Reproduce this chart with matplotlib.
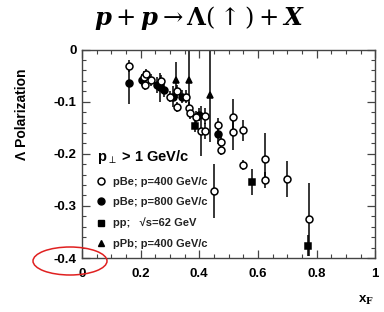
import matplotlib
matplotlib.use("Agg")
import matplotlib.pyplot as plt
from matplotlib.patches import Ellipse
from matplotlib.ticker import MultipleLocator, FuncFormatter
from matplotlib.lines import Line2D

plt.rcParams['font.family'] = ['Liberation Sans', 'DejaVu Sans']
plt.rcParams['mathtext.fontset'] = 'dejavuserif'

# pBe, p=400 GeV/c (offene Kreise)
pbe400_x = [0.16, 0.21, 0.22, 0.215, 0.235, 0.27, 0.30, 0.325, 0.325, 0.355,
            0.365, 0.37, 0.39, 0.42, 0.405, 0.42, 0.45, 0.465, 0.475, 0.475,
            0.515, 0.515, 0.55, 0.55, 0.625, 0.625, 0.70, 0.775]
pbe400_y = [-0.031, -0.052, -0.047, -0.068, -0.058, -0.061, -0.090, -0.080, -0.110, -0.090,
            -0.112, -0.122, -0.130, -0.128, -0.156, -0.156, -0.272, -0.144, -0.178, -0.192,
            -0.130, -0.158, -0.155, -0.222, -0.209, -0.250, -0.248, -0.326]
pbe400_err = [0.012, 0.010, 0.010, 0.010, 0.012, 0.012, 0.010, 0.012, 0.010, 0.012,
              0.012, 0.012, 0.012, 0.015, 0.048, 0.015, 0.052, 0.012, 0.010, 0.010,
              0.035, 0.034, 0.020, 0.010, 0.048, 0.015, 0.034, 0.070]

# pBe, p=800 GeV/c (volle Kreise)
pbe800_x = [0.16, 0.205, 0.255, 0.265, 0.28, 0.31, 0.34, 0.40, 0.465]
pbe800_y = [-0.065, -0.058, -0.068, -0.072, -0.078, -0.090, -0.090, -0.125, -0.162]
pbe800_err = [0.040, 0.012, 0.015, 0.028, 0.012, 0.020, 0.012, 0.012, 0.020]

# pp, sqrt(s)=62 GeV (Quadrate)
pp_x = [0.385, 0.58, 0.77]
pp_y = [-0.147, -0.255, -0.376]
pp_err = [0.012, 0.025, 0.020]

# pPb, p=400 GeV/c (Dreiecke)
ppb_x = [0.32, 0.365, 0.435]
ppb_y = [-0.058, -0.058, -0.088]
ppb_err = [0.035, 0.060, 0.090]

fig = plt.figure(figsize=(3.84, 3.12), dpi=100)
ax = fig.add_axes([0.2135, 0.173, 0.7635, 0.668])

kw = dict(ecolor='black', elinewidth=1.1, capsize=0, linestyle='none',
          markersize=5, markeredgewidth=1.1, markeredgecolor='black')
ax.errorbar(pbe400_x, pbe400_y, yerr=pbe400_err, fmt='o', markerfacecolor='white', zorder=3, **kw)
ax.errorbar(pbe800_x, pbe800_y, yerr=pbe800_err, fmt='o', markerfacecolor='black', zorder=2, **kw)
ax.errorbar(pp_x, pp_y, yerr=pp_err, fmt='s', markerfacecolor='black', zorder=2, **kw)
ax.errorbar(ppb_x, ppb_y, yerr=ppb_err, fmt='^', markerfacecolor='black', zorder=2, **kw)

ax.set_xlim(0, 1)
ax.set_ylim(-0.4, 0)
ax.xaxis.set_major_locator(MultipleLocator(0.2))
ax.xaxis.set_minor_locator(MultipleLocator(0.05))
ax.yaxis.set_major_locator(MultipleLocator(0.1))
ax.yaxis.set_minor_locator(MultipleLocator(0.02))
ax.xaxis.set_major_formatter(FuncFormatter(lambda v, p: f'{v:g}'))
ax.yaxis.set_major_formatter(FuncFormatter(lambda v, p: f'{v:g}'))
ax.tick_params(which='both', direction='in', top=True, right=True, color='#444444')
ax.tick_params(which='major', length=6, width=0.9, labelsize=9.5, pad=4)
ax.tick_params(axis='x', which='major', pad=7)
ax.tick_params(which='minor', length=3, width=0.8)
for lab in ax.get_xticklabels() + ax.get_yticklabels():
    lab.set_fontweight('bold')
for sp in ax.spines.values():
    sp.set_color('#444444')
    sp.set_linewidth(1.0)

ax.set_ylabel('Λ Polarization', fontsize=10, fontweight='bold')
ax.yaxis.set_label_coords(-0.18, 0.69)
ax.set_xlabel(r'x$_\mathbf{F}$', fontsize=9.5, fontweight='bold')
ax.xaxis.set_label_coords(0.97, -0.17)

handles = [
    Line2D([], [], marker='o', linestyle='none', markersize=5, markerfacecolor='white',
           markeredgecolor='black', markeredgewidth=1.1),
    Line2D([], [], marker='o', linestyle='none', markersize=5, color='black'),
    Line2D([], [], marker='s', linestyle='none', markersize=5, color='black'),
    Line2D([], [], marker='^', linestyle='none', markersize=5, color='black'),
]
labels = ['pBe; p=400 GeV/c', 'pBe; p=800 GeV/c', 'pp;   √s=62 GeV', 'pPb; p=400 GeV/c']
leg = ax.legend(handles, labels, loc='upper left', bbox_to_anchor=(0.05, 0.528),
                frameon=False, prop={'size': 8, 'weight': 'bold'},
                title='p$_\\perp$ > 1 GeV/c', title_fontproperties={'size': 10.5, 'weight': 'bold'},
                handlelength=0.8, handletextpad=0.7, labelspacing=0.95, borderpad=0,
                borderaxespad=0)
leg._legend_box.align = 'left'
for t in leg.get_texts():
    t.set_color('#222222')

fig.text(0.52, 0.942,
         r'$\mathbfit{p} + \mathbfit{p} \rightarrow \mathbf{\Lambda}(\uparrow) + \mathbfit{X}$',
         ha='center', va='center', fontsize=17.5)

ell = Ellipse((70 / 384, 1 - 261 / 312), 74 / 384, 28 / 312, transform=fig.transFigure,
              fill=False, edgecolor='#e02020', linewidth=1.1)
fig.patches.append(ell)

fig.savefig('out.png', dpi=100)
